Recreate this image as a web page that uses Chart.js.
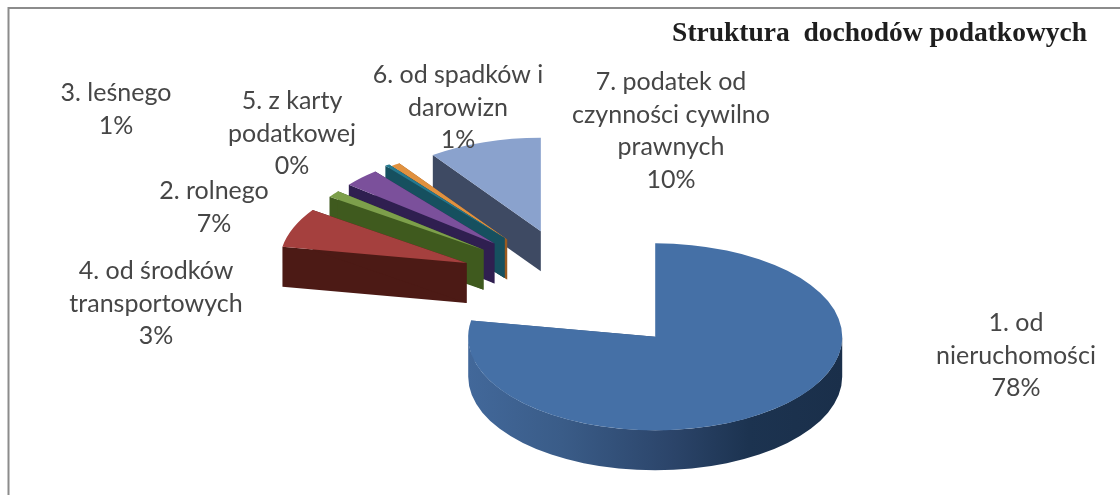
<!DOCTYPE html>
<html lang="pl">
<head>
<meta charset="utf-8">
<style>html,body{margin:0;padding:0;background:#fff}canvas{display:block}</style>
<script src="https://cdn.jsdelivr.net/npm/chart.js@4/dist/chart.umd.min.js"></script>
</head>
<body>
<canvas id="c" width="1120" height="495" style="width:1120px;height:495px"></canvas>
<script>
const titleText = 'Struktura  dochodów podatkowych';
const categories = ['1. od\nnieruchomości','2. rolnego','3. leśnego','4. od środków\ntransportowych','5. z karty\npodatkowej','6. od spadków i\ndarowizn','7. podatek od\nczynności cywilno\nprawnych'];
const values = [77.8,6.8,1.2,3.2,0.4,0.8,9.8];
const topColors = ['#4570a6','#a5403e','#7d9f4b','#7b509b','#25798f','#e0913f','#8aa2cd'];
const wallColors = ['#2e4a70','#4c1a15','#3f5a1e','#2f1f50','#16505f','#9a5a20','#3e4a63'];
const labelX = [1016,214,116,156,292,458,671];
const labelY = [323,191,93,271,101,75,82];
const lineHeight = 32.7;
const drawOrder = [6,5,4,3,2,1,0];
const explode = 121, squash = 0.5, depth = 40;
const nudgeX = [0,1,3,3,3,2,0];
const nudgeY = [1.5,-3,-3,-3,-4,-1,0];

const pie3d = {
  id:'pie3d',
  afterDatasetsUpdate(chart){
    const arcs = chart.getDatasetMeta(0).data;
    arcs.forEach(a=>{
      const m=(a.startAngle+a.endAngle)/2;
      a.cy0=a.y;
      a.x+=Math.cos(m)*explode;
      a.y+=Math.sin(m)*explode;
    });
  },
  beforeDraw(chart){
    const c=chart.ctx;
    c.save();
    c.fillStyle='#fff';c.fillRect(0,0,1120,495);
    c.strokeStyle='#8c8c8c';c.lineWidth=2;
    c.beginPath();c.moveTo(8.5,495);c.lineTo(8.5,8);c.lineTo(1120,8);c.stroke();
    c.restore();
  },
  beforeDatasetDraw(chart){
    const c=chart.ctx, arcs=chart.getDatasetMeta(0).data;
    drawOrder.forEach(i=>{
      const a=arcs[i], R=a.outerRadius, x=a.x, y=a.cy0+(a.y-a.cy0)*squash, ry=R*squash;
      const s=a.startAngle,e=a.endAngle;
      const px=t=>x+R*Math.cos(t), py=t=>y+ry*Math.sin(t);
      let fill=wallColors[i];
      if(i===0){
        const g=c.createLinearGradient(x-R,0,x+R,0);
        g.addColorStop(0,'#42689a');g.addColorStop(0.25,'#3a5c88');g.addColorStop(0.55,'#2b4469');g.addColorStop(0.75,'#1c3350');g.addColorStop(1,'#1a2f4a');
        fill=g;
      }
      c.save();
      c.translate(nudgeX[i],nudgeY[i]);
      c.fillStyle=fill;
      [s,e].forEach(t=>{
        c.beginPath();c.moveTo(x,y);c.lineTo(px(t),py(t));c.lineTo(px(t),py(t)+depth);c.lineTo(x,y+depth);c.closePath();c.fill();
      });
      const a1=Math.max(s,0), a2=Math.min(e,Math.PI);
      if(a2>a1){
        c.beginPath();c.ellipse(x,y,R,ry,0,a1,a2);c.lineTo(px(a2),py(a2)+depth);c.ellipse(x,y+depth,R,ry,0,a2,a1,true);c.closePath();c.fill();
      }
      c.translate(0,a.cy0);c.scale(1,squash);c.translate(0,-a.cy0);
      a.draw(c,chart.chartArea);
      c.restore();
    });
    return false;
  },
  afterDraw(chart){
    const c=chart.ctx;
    c.save();
    c.textAlign='center';c.textBaseline='middle';c.fillStyle='#464646';
    c.font='25px Lato';
    categories.forEach((cat,i)=>{
      const lines=cat.split('\n').concat(Math.round(values[i])+'%');
      lines.forEach((l,k)=>c.fillText(l,labelX[i],labelY[i]+k*lineHeight));
    });
    c.textAlign='right';c.textBaseline='alphabetic';c.fillStyle='#1e1e1e';
    c.font='bold 27.5px "Liberation Serif"';
    c.fillText(titleText,1087,41);
    c.restore();
  }
};

new Chart(document.getElementById('c'),{
  type:'pie',
  data:{labels:categories,datasets:[{data:values,backgroundColor:topColors,borderWidth:0}]},
  options:{
    responsive:false,animation:false,events:[],radius:187,
    layout:{padding:{left:35,top:83,right:0,bottom:0}},
    plugins:{legend:{display:false},tooltip:{enabled:false},title:{display:false}}
  },
  plugins:[pie3d]
});
</script>
</body>
</html>
